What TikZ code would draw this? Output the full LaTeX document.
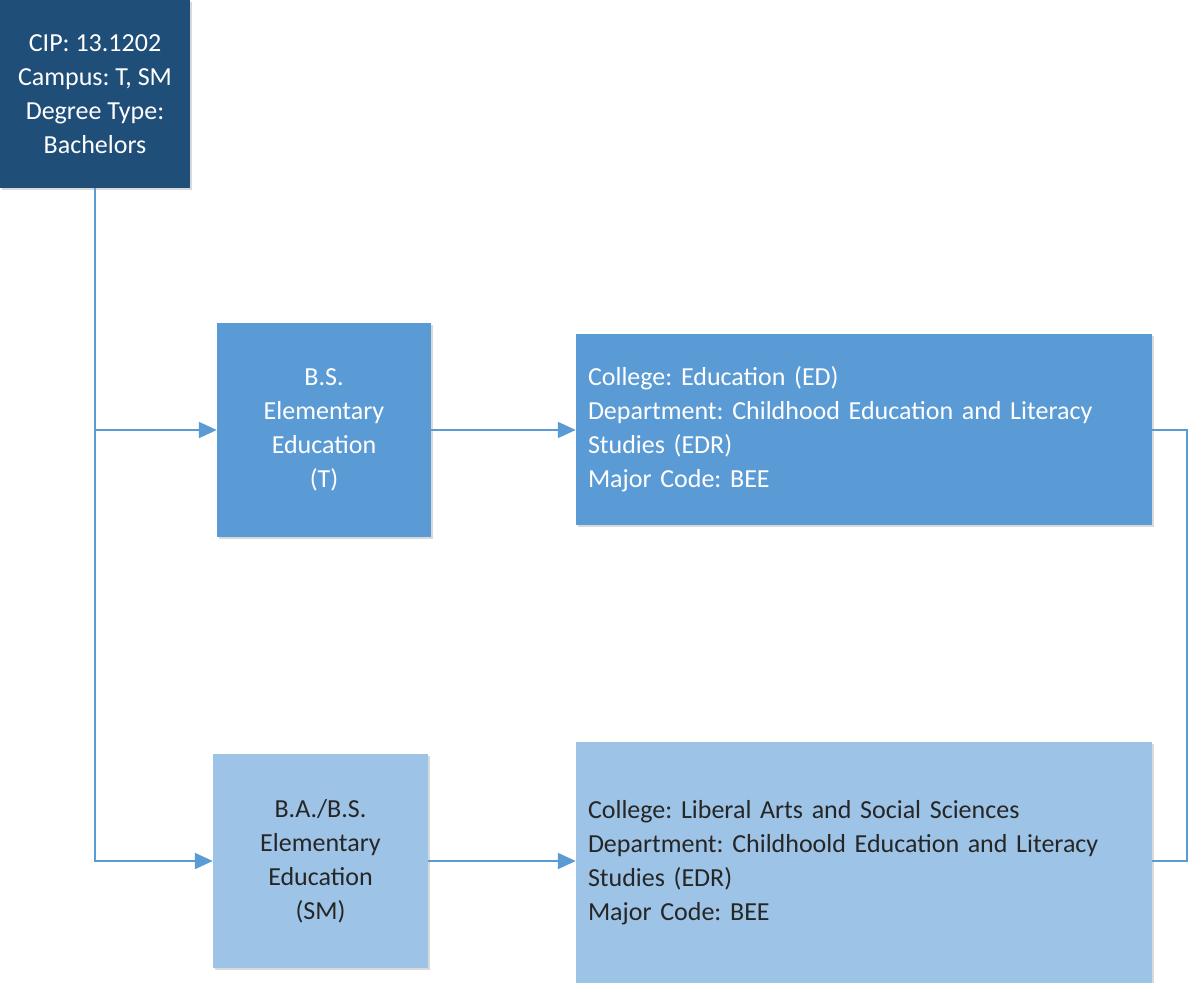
\documentclass[tikz,border=0pt]{standalone}
\usepackage{fontspec}
\setmainfont{Carlito}
\frenchspacing
\usetikzlibrary{arrows.meta,positioning}
\definecolor{darkblue}{HTML}{1F4E79}
\definecolor{midblue}{HTML}{5B9BD5}
\definecolor{lightblue}{HTML}{9DC3E6}
\definecolor{linecol}{HTML}{5B9BD5}
\definecolor{shadowgray}{HTML}{D9D9D9}
\begin{document}
\begin{tikzpicture}[x=1pt,y=-1pt,
  box/.style={rectangle,inner sep=0pt,align=center,font=\fontsize{26}{34}\selectfont,
    draw=none},
  conn/.style={draw=linecol,line width=2pt},
  arr/.style={conn,-{Triangle[length=18pt,width=16pt]}}]
\useasboundingbox (0,0) rectangle (1188,983);
% shadows
\fill[shadowgray] (2,2) rectangle (192,190);
\fill[shadowgray] (219,325) rectangle (433,539);
\fill[shadowgray] (578,336) rectangle (1154,527);
\fill[shadowgray] (215,756) rectangle (430,970);
\fill[shadowgray] (578,744) rectangle (1154,983);
% nodes
\node[box,fill=darkblue,text=white,minimum width=190pt,minimum height=188pt] (top) at (95,94)
  {CIP: 13.1202\\Campus: T, SM\\Degree Type:\\Bachelors};
\node[box,fill=midblue,text=white,minimum width=214pt,minimum height=214pt] (bs) at (324,430)
  {B.S.\\Elementary\\Education\\(T)};
\node[box,fill=lightblue,text=black!85,minimum width=215pt,minimum height=214pt] (ba) at (320.5,861)
  {B.A./B.S.\\Elementary\\Education\\(SM)};
\node[box,fill=midblue,text=white,minimum width=576pt,minimum height=191pt,
  text width=552pt,align=left] (c1) at (864,429.5)
  {College: Education (ED)\\Department: Childhood Education and Literacy\\Studies (EDR)\\Major Code: BEE};
\node[box,fill=lightblue,text=black!85,minimum width=576pt,minimum height=241pt,
  text width=552pt,align=left] (c2) at (864,862.5)
  {College: Liberal Arts and Social Sciences\\Department: Childhoold Education and Literacy\\Studies (EDR)\\Major Code: BEE};
% connectors
\coordinate (j1) at (top.south |- bs.west);
\coordinate (r1) at (1187,0);
\draw[conn] (top.south) -- (j1);
\draw[arr] (top.south) |- (ba.west);
\draw[arr] (j1) -- (bs.west);
\draw[arr] (bs.east) -- (bs.east -| c1.west);
\draw[arr] (ba.east) -- (ba.east -| c2.west);
\draw[conn] (c1.east) -- (c1.east -| r1) |- (c2.east |- ba.east);
\end{tikzpicture}
\end{document}
